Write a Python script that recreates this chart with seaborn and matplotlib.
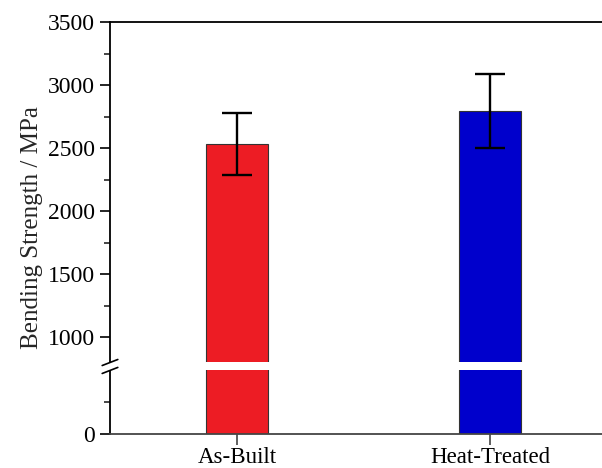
import numpy as np
import pandas as pd
import matplotlib
matplotlib.use("Agg")
import matplotlib.pyplot as plt
import matplotlib.transforms as mtransforms
import seaborn as sns

# Bending strength of the two sample conditions
conditions = ["As-Built", "Heat-Treated"]
strength_mean = [2535, 2797]
strength_err = [245, 293]
bar_colors = ["#ED1C24", "#0000CC"]

# Broken y axis: [0, 500] and [800, 3500], the skipped span squeezed into a thin band
break_lo, break_hi = 500, 800
gap_units = 63.0


def fwd(v):
    v = np.asarray(v, dtype=float)
    squeeze = gap_units / (break_hi - break_lo)
    return np.where(v <= break_lo, v,
                    np.where(v >= break_hi, v - (break_hi - break_lo) + gap_units,
                             break_lo + (v - break_lo) * squeeze))


def inv(u):
    u = np.asarray(u, dtype=float)
    squeeze = gap_units / (break_hi - break_lo)
    top = break_lo + gap_units
    return np.where(u <= break_lo, u,
                    np.where(u >= top, u + (break_hi - break_lo) - gap_units,
                             break_lo + (u - break_lo) / squeeze))


sns.set_theme(style="ticks")
plt.rcParams["font.family"] = ["Liberation Serif", "DejaVu Serif"]
plt.rcParams["mathtext.fontset"] = "stix"

df = pd.DataFrame({"condition": conditions, "strength": strength_mean})

fig = plt.figure(figsize=(6.02, 4.68), dpi=100)
ax = fig.add_axes([110 / 602, (468 - 433.5) / 468, 507 / 602, 411.5 / 468])

sns.barplot(data=df, x="condition", y="strength", hue="condition",
            palette=bar_colors, saturation=1, width=0.244, errorbar=None,
            legend=False, edgecolor="#333333", linewidth=0.8, ax=ax, zorder=1)

ax.errorbar(np.arange(len(conditions)), strength_mean, yerr=strength_err,
            fmt="none", ecolor="black", elinewidth=1.7, capsize=11,
            capthick=1.7, zorder=4)

ax.set_yscale("function", functions=(fwd, inv))
ax.set_ylim(0, 3500)
ax.set_xlim(-0.502, 1.502)

ax.set_yticks([0, 1000, 1500, 2000, 2500, 3000, 3500])
ax.set_yticks([250, 1250, 1750, 2250, 2750, 3250], minor=True)
ax.set_yticklabels(["0", "1000", "1500", "2000", "2500", "3000", "3500"])

ax.tick_params(axis="y", which="major", direction="out", length=7, width=1.2,
               labelsize=17, colors="black", pad=4)
ax.tick_params(axis="y", which="minor", direction="out", length=4, width=1.2)
ax.tick_params(axis="x", which="major", direction="out", length=8, width=1.2,
               labelsize=16.5, colors="black", pad=2)
ax.tick_params(axis="x", which="major", color="#444444")

ax.set_xlabel("")
ax.set_ylabel("Bending Strength / MPa", fontsize=18, labelpad=3)

for side in ["left", "top", "bottom"]:
    ax.spines[side].set_linewidth(1.3)
ax.spines["left"].set_color("black")
ax.spines["top"].set_color("black")
ax.spines["bottom"].set_color("#444444")
ax.spines["right"].set_visible(False)

# White band through the bars and the axis at the break
ax.axhspan(break_lo, break_hi, xmin=-0.01, xmax=1.0, facecolor="white",
           edgecolor="none", zorder=2.6, clip_on=False)

# Slanted break marks on the y axis
blend = mtransforms.blended_transform_factory(ax.transAxes, ax.transData)
dx = 7.8 / 507
for yb in (break_lo, break_hi):
    y0 = float(fwd(yb))
    ax.plot([-dx, dx], [inv(y0 - 24), inv(y0 + 24)], transform=blend,
            color="black", lw=1.2, clip_on=False, zorder=5)

fig.savefig("out.png", dpi=100)
